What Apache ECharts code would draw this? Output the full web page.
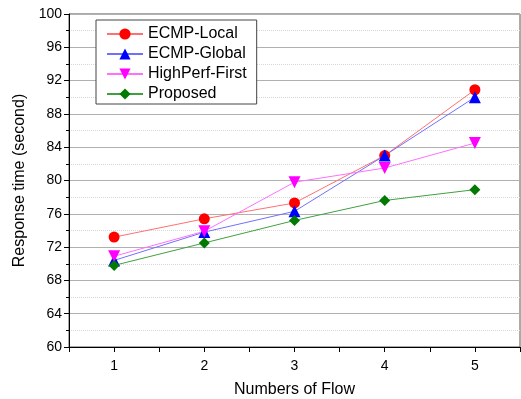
<!DOCTYPE html>
<html><head><meta charset="utf-8">
<script src="https://cdn.jsdelivr.net/npm/echarts@6/dist/echarts.min.js"></script>
<style>html,body{margin:0;padding:0;background:#fff}#c{width:521px;height:399px}</style>
</head><body><div id="c"></div>
<script>
var flows = [1, 2, 3, 4, 5];
var seriesNames = ['ECMP-Local', 'ECMP-Global', 'HighPerf-First', 'Proposed'];
var ecmpLocal = [73.2, 75.4, 77.3, 83.0, 90.9];
var ecmpGlobal = [70.4, 73.8, 76.3, 83.0, 90.0];
var highPerf = [70.9, 73.9, 79.8, 81.5, 84.5];
var proposed = [69.8, 72.5, 75.2, 77.6, 78.9];

var values = [ecmpLocal, ecmpGlobal, highPerf, proposed];
var lineColors = ['#ff7070', '#7070ff', '#ff70ff', '#40a040'];
var markColors = ['#ff0000', '#0000ff', '#ff00ff', '#007a00'];
var symbols = ['circle', 'triangle', 'path://M0,0L10,0L5,9Z', 'diamond'];
var sizes = [11, 12, 12, 11];

var chart = echarts.init(document.getElementById('c'));
var font = 'Liberation Sans, Arial, sans-serif';
chart.setOption({
  animation: false,
  grid: {left: 69, right: 1, top: 14, bottom: 52, show: true, borderColor: '#555', borderWidth: 1,
    containLabel: false, outerBoundsMode: 'none'},
  legend: {
    left: 96, top: 20, orient: 'vertical', itemGap: 4, itemWidth: 36, itemHeight: 14,
    backgroundColor: '#fff', borderColor: '#444', borderWidth: 1, padding: [6, 10, 2, 10],
    textStyle: {fontSize: 16, color: '#000', fontFamily: font},
    data: seriesNames
  },
  xAxis: {
    type: 'value', min: 0.5, max: 5.5, interval: 0.5,
    name: 'Numbers of Flow', nameLocation: 'middle', nameGap: 35,
    nameTextStyle: {fontSize: 16, color: '#000', fontFamily: font},
    axisLine: {lineStyle: {color: '#000', width: 1}},
    axisTick: {show: true, length: 5, lineStyle: {color: '#000'}},
    axisLabel: {color: '#000', fontSize: 14, fontFamily: font, margin: 12,
      formatter: function (v) { return Math.abs(v - Math.round(v)) < 1e-6 ? String(Math.round(v)) : ''; }},
    splitLine: {show: false}
  },
  yAxis: {
    type: 'value', min: 60, max: 100, interval: 4,
    name: 'Response time (second)', nameLocation: 'middle', nameGap: 41,
    nameTextStyle: {fontSize: 16, color: '#000', fontFamily: font},
    axisLine: {show: true, lineStyle: {color: '#000', width: 1}},
    axisTick: {show: true, length: 5, lineStyle: {color: '#000'}},
    minorTick: {show: true, splitNumber: 2, length: 3, lineStyle: {color: '#000'}},
    axisLabel: {color: '#000', fontSize: 14, fontFamily: font, margin: 7},
    splitLine: {show: true, lineStyle: {color: '#b0b0b0', width: 1}},
    minorSplitLine: {show: true, lineStyle: {color: '#d8d8d8', type: 'dotted', width: 1}}
  },
  series: seriesNames.map(function (n, i) {
    return {
      name: n, type: 'line',
      data: flows.map(function (f, j) { return [f, values[i][j]]; }),
      symbol: symbols[i], symbolSize: sizes[i], showAllSymbol: true,
      lineStyle: {color: lineColors[i], width: 1},
      itemStyle: {color: markColors[i], borderWidth: 0},
      emphasis: {disabled: true}
    };
  })
});
</script></body></html>
